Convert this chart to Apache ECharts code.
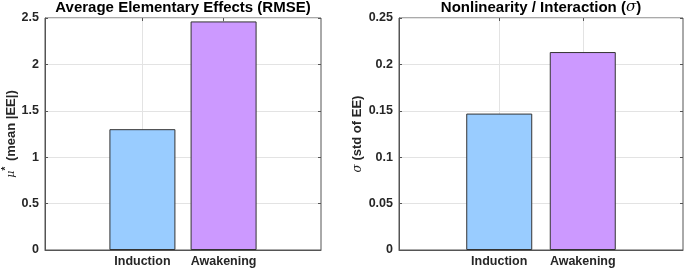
<!DOCTYPE html>
<html><head><meta charset="utf-8">
<script src="https://cdn.jsdelivr.net/npm/echarts@6/dist/echarts.min.js"></script>
<style>html,body{margin:0;padding:0;background:#fff}#c{width:685px;height:270px}</style>
</head><body><div id="c"></div>
<script>
var categories = ['Induction', 'Awakening'];
var categoryPos = [1, 2];
var muStar = [1.302, 2.463];
var sigma = [0.147, 0.2133];
var leftTicks = [0, 0.5, 1, 1.5, 2, 2.5];
var rightTicks = [0, 0.05, 0.1, 0.15, 0.2, 0.25];
var titles = ['Average Elementary Effects (RMSE)', 'Nonlinearity / Interaction ({i|σ})'];

var barColors = ['#99ccff', '#cc99ff'];
var FONT = 'Liberation Sans, Arial, Helvetica, sans-serif';
var TXT = '#262626';
var chart = echarts.init(document.getElementById('c'), null, {renderer: 'canvas'});

function xAxis(gi, top) {
  return {
    type: 'value', gridIndex: gi, min: -0.2, max: 3.2, position: top ? 'top' : 'bottom',
    axisLine: {show: !top, onZero: false, lineStyle: {color: '#555', width: 1}},
    axisTick: {show: true, inside: true, length: 3, customValues: categoryPos, lineStyle: {color: '#555'}},
    axisLabel: {show: !top, customValues: categoryPos, margin: 5, color: TXT, fontFamily: FONT, fontWeight: 'bold', fontSize: 12.5,
      formatter: function (v) { return categories[Math.round(v) - 1] || ''; }},
    splitLine: {show: !top, lineStyle: {color: '#e3e3e3', width: 1}}
  };
}
function yAxis(gi, ticks, name, gap, rich, right) {
  var mx = ticks[ticks.length - 1];
  var ax = {
    type: 'value', gridIndex: gi, min: ticks[0], max: mx, interval: ticks[1] - ticks[0],
    position: right ? 'right' : 'left',
    axisLine: {show: !right, onZero: false, lineStyle: {color: '#555', width: 1}},
    axisTick: {show: true, inside: true, length: 3, lineStyle: {color: '#555'}},
    axisLabel: {show: !right, margin: 6, color: TXT, fontFamily: FONT, fontWeight: 'bold', fontSize: 12.5,
      formatter: function (v) { return String(+v.toFixed(4)); }},
    splitLine: {show: !right, lineStyle: {color: '#e3e3e3', width: 1}}
  };
  if (!right) {
    ax.name = name; ax.nameLocation = 'middle'; ax.nameGap = gap; ax.nameRotate = 90;
    ax.nameTextStyle = {color: TXT, fontFamily: FONT, fontWeight: 'bold', fontSize: 13, rich: rich};
  }
  return ax;
}
function bars(gi, vals) {
  return {
    type: 'bar', xAxisIndex: gi * 2, yAxisIndex: gi * 2, barWidth: 66,
    data: vals.map(function (v, i) {
      return {value: [categoryPos[i], v], itemStyle: {color: barColors[i]}};
    }),
    itemStyle: {borderColor: '#333', borderWidth: 1},
    silent: true
  };
}
var richMu = {
  i: {fontFamily: 'DejaVu Serif', fontStyle: 'italic', fontWeight: 'normal', fontSize: 11, color: TXT},
  s: {fontFamily: FONT, fontWeight: 'bold', fontSize: 10, color: TXT, verticalAlign: 'top', padding: [0, 2, 9, 0]},
  b: {fontFamily: FONT, fontWeight: 'bold', fontSize: 13, color: TXT}
};
var richSig = {
  i: {fontFamily: 'DejaVu Serif', fontStyle: 'italic', fontWeight: 'normal', fontSize: 12, color: TXT},
  b: {fontFamily: FONT, fontWeight: 'bold', fontSize: 13, color: TXT}
};
var titleRich = {i: {fontFamily: 'DejaVu Serif', fontStyle: 'italic', fontWeight: 'normal', fontSize: 15, color: '#000'}};

chart.setOption({
  animation: false,
  backgroundColor: '#fff',
  title: [
    {text: titles[0], left: 183, textAlign: 'center', top: 0, padding: 0,
     textStyle: {fontFamily: FONT, fontWeight: 'bold', fontSize: 15, color: '#000', rich: titleRich}},
    {text: titles[1], left: 541, textAlign: 'center', top: 0, padding: 0,
     textStyle: {fontFamily: FONT, fontWeight: 'bold', fontSize: 15, color: '#000', rich: titleRich}}
  ],
  grid: [
    {left: 45, top: 18, width: 276, height: 232, show: true, borderColor: '#555', borderWidth: 1, backgroundColor: 'transparent'},
    {left: 399, top: 18, width: 284, height: 232, show: true, borderColor: '#555', borderWidth: 1, backgroundColor: 'transparent'}
  ],
  xAxis: [xAxis(0, false), xAxis(0, true), xAxis(1, false), xAxis(1, true)],
  yAxis: [
    yAxis(0, leftTicks, '{i|μ}{s|*} {b|(mean |EE|)}', 24, richMu, false),
    yAxis(0, leftTicks, '', 0, null, true),
    yAxis(1, rightTicks, '{i|σ} {b|(std of EE)}', 35, richSig, false),
    yAxis(1, rightTicks, '', 0, null, true)
  ],
  series: [bars(0, muStar), bars(1, sigma)]
});
</script></body></html>
